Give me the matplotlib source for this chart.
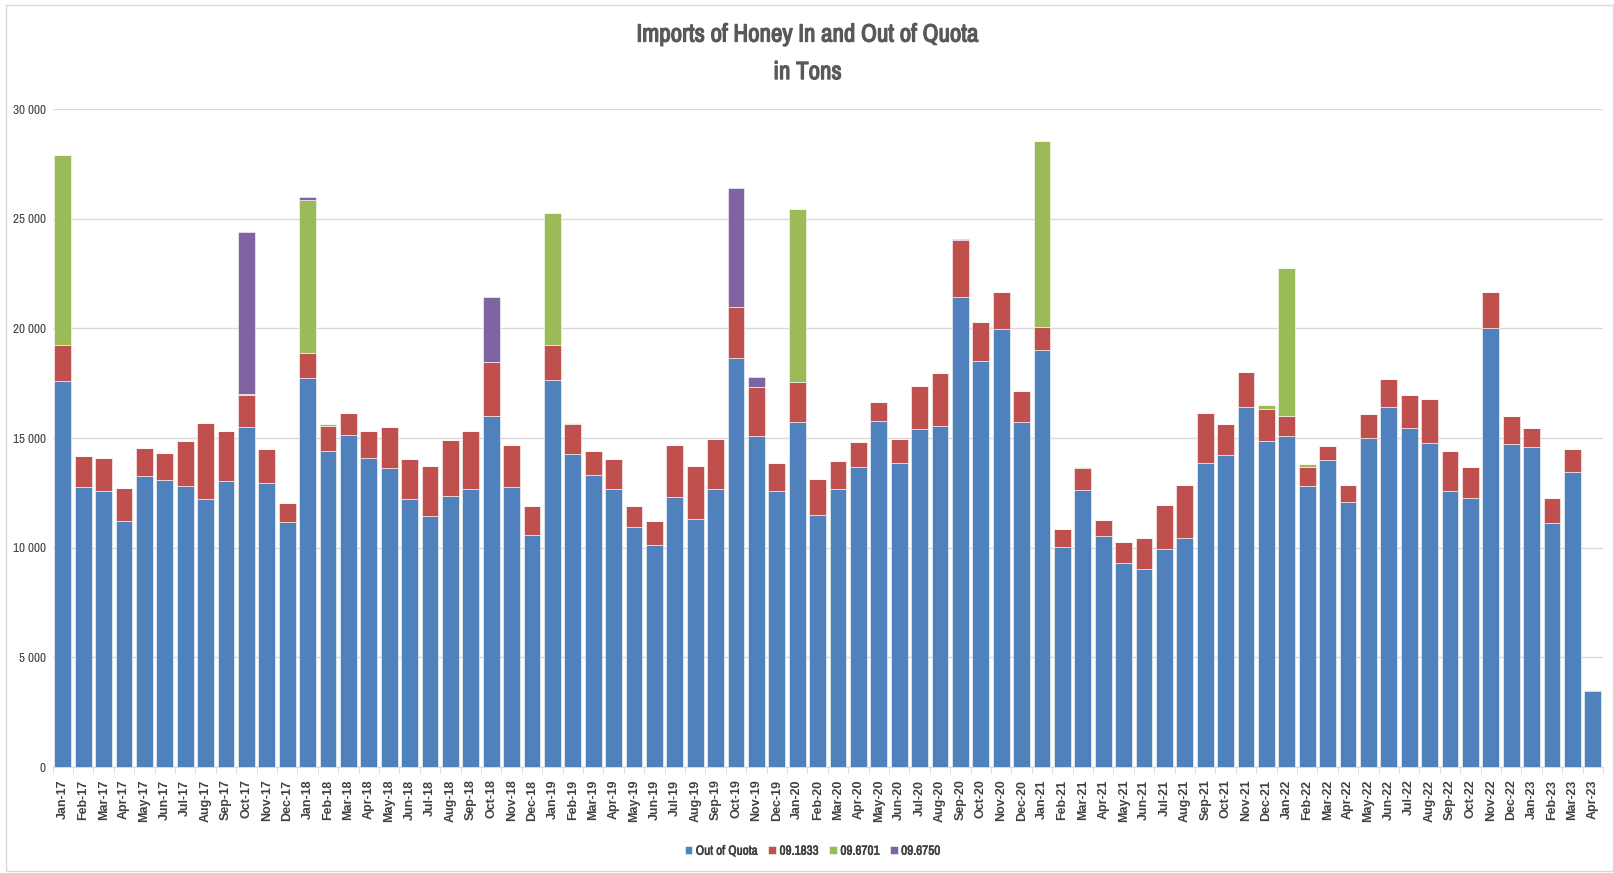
import matplotlib
matplotlib.use('Agg')
import matplotlib.pyplot as plt
from matplotlib import font_manager
import matplotlib.patheffects as pe
from matplotlib.patches import Rectangle
import numpy as np

# pick a narrow face if one is installed, the reference uses a condensed font
narrow = [f.name for f in font_manager.fontManager.ttflist
          if 'Narrow' in f.name or 'Condensed' in f.name]
fams = (narrow[:1] if narrow else []) + ['Liberation Sans', 'DejaVu Sans']
plt.rcParams['font.family'] = fams

# months Jan-17 .. Apr-23
months = ['Jan', 'Feb', 'Mar', 'Apr', 'May', 'Jun', 'Jul', 'Aug', 'Sep', 'Oct', 'Nov', 'Dec']
labels = [f'{m}-{y}' for y in range(17, 24) for m in months][:76]

# tons (stack segment sizes)
out_of_quota = [
    17590, 12760, 12580, 11220, 13250, 13070, 12820, 12230, 13030, 15490, 12950, 11170,
    17750, 14430, 15120, 14090, 13620, 12230, 11460, 12360, 12680, 16000, 12760, 10580,
    17650, 14270, 13310, 12680, 10930, 10120, 12310, 11300, 12680, 18670, 15080, 12600,
    15710, 11500, 12680, 13660, 15770, 13860, 15410, 15530, 21430, 18520, 19970, 15710,
    19010, 10010, 12620, 10520, 9280, 9020, 9930, 10420, 13840, 14210, 16400, 14860,
    15080, 12800, 14020, 12070, 14980, 16400, 15470, 14760, 12580, 12250, 20010, 14740,
    14570, 11110, 13430, 3460,
]
q_1833 = [
    1650, 1400, 1490, 1490, 1280, 1240, 2060, 3440, 2300, 1450, 1550, 860,
    1120, 1140, 1040, 1220, 1890, 1830, 2260, 2540, 2620, 2460, 1910, 1300,
    1590, 1360, 1080, 1380, 980, 1100, 2360, 2420, 2260, 2320, 2260, 1240,
    1850, 1610, 1260, 1140, 880, 1080, 1970, 2440, 2590, 1750, 1690, 1450,
    1040, 840, 1000, 730, 980, 1400, 2020, 2420, 2320, 1440, 1610, 1460,
    920, 860, 630, 810, 1120, 1310, 1510, 2030, 1810, 1410, 1650, 1280,
    900, 1140, 1060, 40,
]
q_6701 = [
    8670, 0, 0, 0, 0, 0, 0, 0, 0, 60, 0, 0,
    6960, 60, 0, 0, 0, 0, 0, 0, 0, 0, 0, 0,
    6000, 40, 0, 0, 0, 0, 0, 0, 0, 0, 0, 0,
    7900, 0, 0, 0, 0, 0, 0, 0, 0, 0, 0, 0,
    8510, 0, 60, 0, 0, 0, 0, 0, 0, 0, 0, 180,
    6740, 140, 0, 0, 0, 0, 0, 0, 0, 0, 0, 0,
    0, 0, 0, 0,
]
q_6750 = [
    0, 0, 0, 0, 0, 0, 0, 0, 0, 7380, 0, 0,
    180, 0, 0, 0, 0, 0, 0, 0, 0, 2970, 0, 0,
    0, 0, 0, 0, 0, 0, 0, 0, 0, 5390, 450, 0,
    0, 0, 0, 0, 0, 0, 0, 0, 40, 0, 0, 0,
    0, 0, 0, 0, 0, 0, 0, 0, 0, 0, 0, 0,
    0, 0, 0, 0, 0, 0, 0, 0, 0, 0, 0, 0,
    0, 0, 0, 0,
]
series = [('Out of Quota', out_of_quota, '#4F81BD'),
          ('09.1833', q_1833, '#C0504D'),
          ('09.6701', q_6701, '#9BBB59'),
          ('09.6750', q_6750, '#8064A2')]

fig = plt.figure(figsize=(16.15, 8.73), dpi=100)
ax = fig.add_axes([0.0326, 0.1214, 0.9600, 0.7537])

x = np.arange(len(labels))
bottom = np.zeros(len(labels))
for name, vals, col in series:
    vals = np.array(vals, dtype=float)
    ax.bar(x, vals, bottom=bottom, width=0.82, color=col, label=name,
           edgecolor='white', linewidth=0.4, zorder=3)
    bottom += vals

ax.set_xlim(-0.5, len(labels) - 0.5)
ax.set_ylim(0, 30000)
ax.set_yticks(range(0, 30001, 5000))
ax.set_yticklabels([f'{v:,}'.replace(',', ' ') for v in range(0, 30001, 5000)],
                   fontsize=9.5, color='#404040')
ax.set_xticks(x)
ax.set_xticklabels(labels, rotation=90, fontsize=9, fontweight='bold',
                   color='#404040', family=['Liberation Sans', 'DejaVu Sans'])
ax.set_xticks(np.arange(-0.5, len(labels), 1), minor=True)
ax.tick_params(axis='x', which='major', length=0, pad=9)
ax.tick_params(axis='x', which='minor', length=4, color='#D9D9D9')
ax.tick_params(axis='y', length=0, pad=5)

ax.grid(axis='y', color='#D9D9D9', linewidth=1, zorder=0)
for s in ['top', 'right', 'left']:
    ax.spines[s].set_visible(False)
ax.spines['bottom'].set_color('#D9D9D9')

bold = [pe.withStroke(linewidth=0.9, foreground='#595959')]
for txt, yy in [('Imports of Honey In and Out of Quota', 0.961), ('in Tons', 0.918)]:
    fig.text(0.5, yy, txt, ha='center', va='center', fontsize=18 if narrow else 14,
             fontweight='bold', color='#595959', path_effects=bold)

leg = fig.legend(loc='center', bbox_to_anchor=(0.503, 0.025), ncol=4, frameon=False,
                 fontsize=9.5 if narrow else 8, handlelength=0.6, handleheight=0.6,
                 handletextpad=0.25, columnspacing=0.8, labelcolor='#404040')
for t in leg.get_texts():
    t.set_path_effects([pe.withStroke(linewidth=0.4, foreground='#404040')])

fig.patches.append(Rectangle((0.0035, 0.002), 0.995, 0.992, transform=fig.transFigure,
                             fill=False, edgecolor='#D9D9D9', linewidth=1))

fig.savefig('out.png', dpi=100)
